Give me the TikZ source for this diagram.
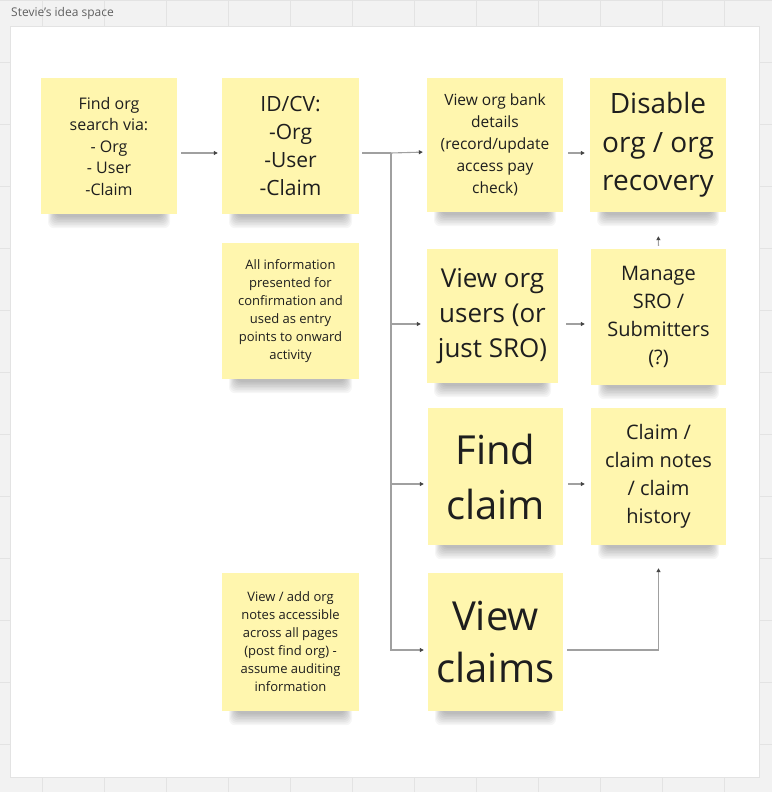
\documentclass[tikz,border=0pt]{standalone}
\usepackage{fontspec}
\setmainfont{Open Sans}
\usetikzlibrary{arrows.meta}
\definecolor{bgc}{HTML}{F2F2F2}
\definecolor{gridc}{HTML}{E3E3E3}
\definecolor{notec}{HTML}{FFF6AE}
\definecolor{inkc}{HTML}{1E1E1E}
\definecolor{linec}{HTML}{A0A0A0}
\definecolor{tipc}{HTML}{444444}
\newcommand{\stickynote}[8]{%
  % #1 name, #2 x1, #3 y1, #4 x2, #5 y2, #6 font size, #7 skip, #8 text
  \foreach \i in {0,...,7}{
    \fill[black,opacity=0.035,rounded corners=6pt]
      (#2+14-\i,#5-12) rectangle (#4-14+\i,#5+3+1.6*\i);
  }
  \fill[notec] (#2,#3) rectangle (#4,#5);
  \node[align=center,text=inkc,font=\fontsize{#6}{#7}\selectfont,
        minimum width=#4pt-#2pt,minimum height=#5pt-#3pt,inner sep=0pt]
    (#1) at ({(#2+#4)/2},{(#3+#5)/2}) {#8};
}
\begin{document}
\begin{tikzpicture}[x=1pt,y=-1pt,
  conn/.style={draw=linec,line width=1.1pt,
    -{Triangle[length=4pt,width=4pt,fill=tipc,color=tipc]}},
  plain/.style={draw=linec,line width=1.1pt}]
\useasboundingbox (0,0) rectangle (772,792);
\fill[bgc] (0,0) rectangle (772,792);
\foreach \gx in {42,104,...,772}{\draw[gridc,line width=0.8pt] (\gx,0) -- (\gx,792);}
\foreach \gy in {0,62,...,792}{\draw[gridc,line width=0.8pt] (0,\gy) -- (772,\gy);}
\fill[white] (10,26) rectangle (759,777);
\draw[gridc,line width=0.6pt] (10,26) rectangle (759,777);
\node[anchor=west,text=gray!75!black,font=\fontsize{12}{14}\selectfont,inner sep=0pt] (title) at (11,13) {Stevie's idea space};

\stickynote{findorg}{41}{78}{177}{214}{16}{21.5}{Find org\\search via:\\- Org\\- User\\-Claim}
\stickynote{idcv}{222}{78}{359}{214}{21}{28}{ID/CV:\\-Org\\-User\\-Claim}
\stickynote{bank}{427}{78}{563}{212}{15.5}{22}{View org bank\\details\\(record/update\\access pay\\check)}
\stickynote{disable}{590}{78}{726}{212}{28}{38.5}{Disable\\org / org\\recovery}
\stickynote{info}{222}{243}{359}{379}{13}{18}{All information\\presented for\\confirmation and\\used as entry\\points to onward\\activity}
\stickynote{users}{427}{249}{558}{383}{26}{35}{View org\\users (or\\just SRO)}
\stickynote{manage}{591}{249}{726}{385}{20}{28}{Manage\\SRO /\\Submitters\\(?)}
\stickynote{findclaim}{428}{408}{563}{545}{40}{55}{Find\\claim}
\stickynote{notes}{591}{408}{726}{545}{20}{28}{Claim /\\claim notes\\/ claim\\history}
\stickynote{addnotes}{222}{573}{359}{711}{13}{18}{View / add org\\notes accessible\\across all pages\\(post find org) -\\assume auditing\\information}
\stickynote{viewclaims}{428}{573}{563}{711}{40}{52}{View\\claims}

\coordinate (trunk) at (391,153);
\draw[conn,shorten <=4pt,shorten >=4pt] ([yshift=-7pt]findorg.east) -- ([yshift=-7pt]idcv.east -| idcv.west);
\draw[plain,shorten <=3pt] ([yshift=-7pt]idcv.east) -- (trunk);
\draw[conn,shorten >=4pt] (trunk) -- ([yshift=-7pt]bank.west);
\draw[conn,shorten >=6pt] (trunk) |- ([yshift=-8pt]users.west);
\draw[conn,shorten >=4pt] (trunk) |- ([yshift=-7.5pt]findclaim.west);
\draw[conn,shorten >=4pt] (trunk) |- ([yshift=-8pt]viewclaims.west);
\draw[conn,shorten <=5pt,shorten >=5pt] ([yshift=-8pt]bank.east) -- ([yshift=-8pt]bank.east -| disable.west);
\draw[conn,shorten <=8pt,shorten >=6pt] ([yshift=-8pt]users.east) -- ([yshift=-8pt]users.east -| manage.west);
\draw[conn,shorten <=5pt,shorten >=6pt] ([yshift=-7.5pt]findclaim.east) -- ([yshift=-7.5pt]findclaim.east -| notes.west);
\draw[conn,shorten <=3pt,shorten >=24pt] (manage.north) -- (disable.south);
\draw[conn,shorten <=4pt,shorten >=23pt] ([yshift=-8pt]viewclaims.east) -| (notes.south);
\end{tikzpicture}
\end{document}
